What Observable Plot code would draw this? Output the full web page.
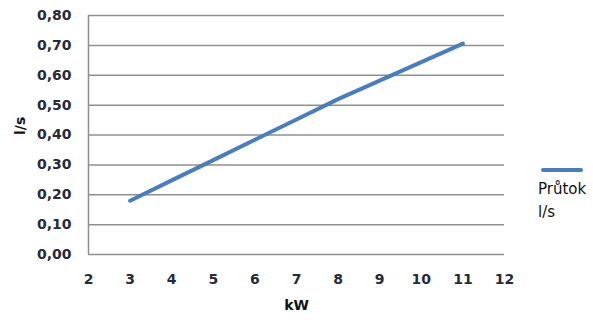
<!DOCTYPE html>
<html>
<head>
<meta charset="utf-8">
<script src="https://cdn.jsdelivr.net/npm/d3@7"></script>
<script src="https://cdn.jsdelivr.net/npm/@observablehq/plot@0.6"></script>
<style>
  html, body { margin: 0; padding: 0; background: #fff; }
  #wrap { position: relative; width: 593px; height: 322px; }
  #legend { position: absolute; left: 538px; top: 168px; font-family: "DejaVu Sans", sans-serif; font-size: 15px; color: #111; line-height: 23px; }
  #legend .sw { width: 42px; height: 4px; background: #4a7ebb; border-radius: 2px; margin-left: 3px; margin-bottom: 6px; }
</style>
</head>
<body>
<div id="wrap"><div id="legend"></div></div>
<script>
const power = [3, 4, 5, 6, 7, 8, 9, 10, 11];
const flow = [0.18, 0.248, 0.316, 0.384, 0.452, 0.52, 0.582, 0.644, 0.706];
const xTicks = [2, 3, 4, 5, 6, 7, 8, 9, 10, 11, 12];
const yTicks = [0, 0.1, 0.2, 0.3, 0.4, 0.5, 0.6, 0.7, 0.8];
const seriesName = "Průtok l/s";
const xLabel = "kW";
const yLabel = "l/s";

const data = power.map((p, i) => ({p, f: flow[i]}));
const fmt = d => d.toFixed(2).replace(".", ",");

const chart = Plot.plot({
  width: 593,
  height: 322,
  marginLeft: 88,
  marginRight: 89,
  marginTop: 15,
  marginBottom: 68,
  style: {fontFamily: "DejaVu Sans, sans-serif", fontSize: "14px", color: "#262a3a", fontWeight: "bold", background: "#fff"},
  x: {domain: [2, 12], ticks: xTicks, tickSize: 0, tickPadding: 20, label: null},
  y: {domain: [0, 0.8], ticks: yTicks, tickSize: 0, tickPadding: 18, tickFormat: fmt, label: null},
  marks: [
    Plot.ruleY(yTicks, {stroke: "#8f8f8f", strokeWidth: 1.5}),
    Plot.ruleX([2], {stroke: "#8f8f8f", strokeWidth: 1.5}),
    Plot.line(data, {x: "p", y: "f", stroke: "#4a7ebb", strokeWidth: 4, strokeLinecap: "round"}),
    Plot.axisX({ticks: xTicks, tickSize: 0, tickPadding: 20, label: null, fontSize: 14}),
    Plot.axisY({ticks: yTicks, tickSize: 0, tickPadding: 17, tickFormat: fmt, label: null, fontSize: 14}),
    Plot.text([xLabel], {frameAnchor: "bottom", dy: 55, fontSize: 14, fontWeight: "bold", fill: "#111"}),
    Plot.text([yLabel], {frameAnchor: "left", dx: -68, rotate: -90, fontSize: 14, fontWeight: "bold", fill: "#111"})
  ]
});
document.getElementById("wrap").prepend(chart);

const parts = seriesName.split(" ");
document.getElementById("legend").innerHTML =
  '<div class="sw"></div>' + parts.map(t => `<div>${t}</div>`).join("");
</script>
</body>
</html>
